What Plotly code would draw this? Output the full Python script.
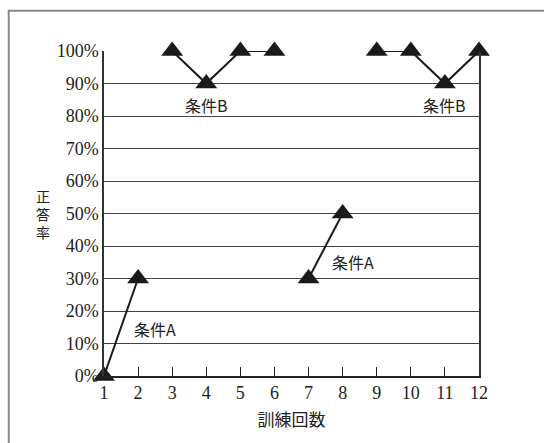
import plotly.graph_objects as go

trials = [1, 2, 3, 4, 5, 6, 7, 8, 9, 10, 11, 12]
accuracy = [0, 30, 100, 90, 100, 100, 30, 50, 100, 100, 90, 100]
phases = ["A", "A", "B", "B", "B", "B", "A", "A", "B", "B", "B", "B"]
y_ticks = [0, 10, 20, 30, 40, 50, 60, 70, 80, 90, 100]
y_tick_text = [f"{v}%" for v in y_ticks]
labels = ["条件A", "条件B", "条件A", "条件B"]
label_x = [2.5, 4.0, 8.3, 11.0]
label_y = [14.5, 83.5, 35.0, 83.5]
y_title = "正答率"

# break the line between phases
xs, ys = [], []
for i, (t, a) in enumerate(zip(trials, accuracy)):
    if i > 0 and phases[i] != phases[i - 1]:
        xs.append(None)
        ys.append(None)
    xs.append(t)
    ys.append(a)

serif = "Liberation Serif"
cjk = "Noto Sans CJK JP"

fig = go.Figure()
fig.add_trace(go.Scatter(
    x=xs, y=ys, mode="lines+markers",
    line=dict(color="#1a1a1a", width=2),
    marker=dict(symbol="triangle-up", size=19, color="#1a1a1a"),
    cliponaxis=False, showlegend=False, hoverinfo="skip",
))

for txt, lx, ly in zip(labels, label_x, label_y):
    fig.add_annotation(x=lx, y=ly, text=txt, showarrow=False,
                       font=dict(family=cjk, size=16, color="#222"))

fig.add_annotation(xref="paper", yref="paper", x=-0.163, y=0.497,
                   xanchor="center", yanchor="middle",
                   text="<br>".join(y_title), showarrow=False, borderpad=0,
                   font=dict(family=cjk, size=14, color="#222"))

fig.add_shape(type="rect", xref="paper", yref="paper",
              x0=-0.254, y0=-1.0, x1=2.0, y1=1.124,
              line=dict(color="#888", width=2), layer="below")

fig.update_layout(
    width=544, height=443,
    margin=dict(l=104, r=65, t=51, b=67),
    paper_bgcolor="white", plot_bgcolor="white",
    font=dict(family=serif, size=18, color="#222"),
    xaxis=dict(
        range=[1, 12], tickmode="array", tickvals=trials,
        ticks="inside", ticklen=9, tickcolor="#222", tickwidth=1,
        showline=True, linecolor="#222", linewidth=1.5,
        showgrid=False, zeroline=False,
        tickfont=dict(family=serif, size=18),
        title=dict(text="訓練回数", font=dict(family=cjk, size=17), standoff=12),
    ),
    yaxis=dict(
        range=[0, 100], tickmode="array", tickvals=y_ticks, ticktext=y_tick_text,
        ticks="", showline=True, mirror=True,
        linecolor="#333", linewidth=1.5,
        showgrid=True, gridcolor="#444", gridwidth=1.2,
        zeroline=False, tickfont=dict(family=serif, size=18),
    ),
)

fig.write_html("out.html", config={"displayModeBar": False},
               post_script="document.body.style.margin='0';document.body.style.padding='0';")
